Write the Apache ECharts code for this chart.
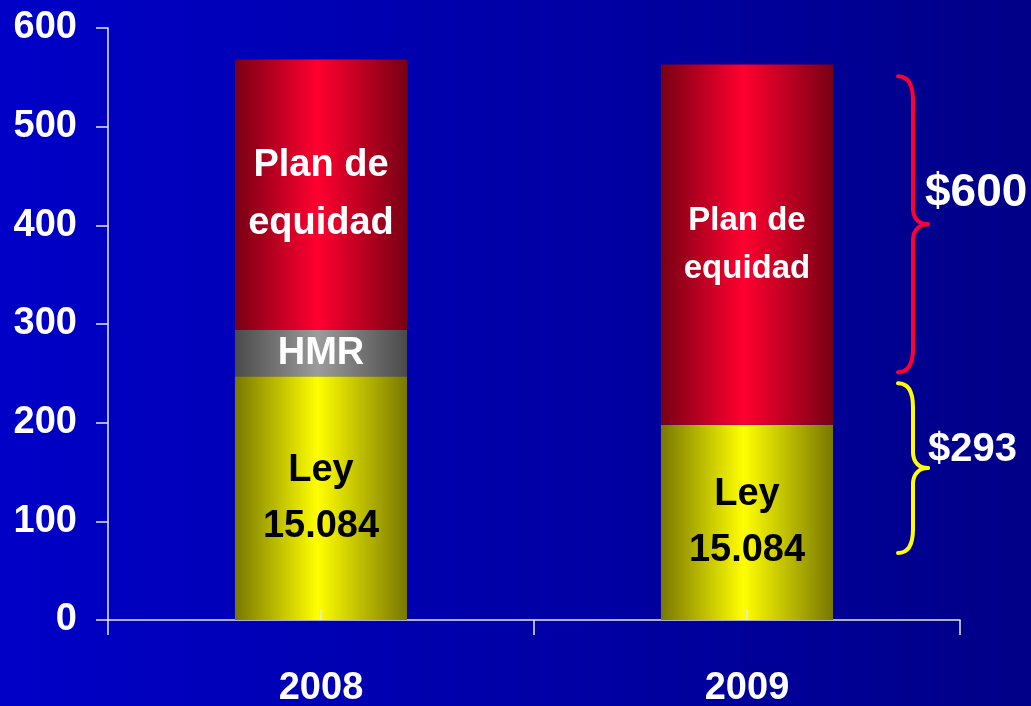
<!DOCTYPE html>
<html>
<head>
<meta charset="utf-8">
<style>
  html, body { margin: 0; padding: 0; }
  #main { width: 1031px; height: 706px; }
</style>
<script src="https://cdn.jsdelivr.net/npm/echarts@6/dist/echarts.min.js"></script>
</head>
<body>
<div id="main"></div>
<script>
// 数据
var years = ['2008', '2009'];
var leyValues = [247, 198];
var hmrValues = [47, 0];
var planValues = [274, 365];
var yMin = 0, yMax = 600, yStep = 100;
// 右侧括号 (y轴数值范围) 和文字
var braceRanges = [[251, 551], [68, 240]];
var braceLabels = ['$600', '$293'];

(function () {
    var FONT = '"Liberation Sans", Arial, sans-serif';
    let myechart = echarts.init(document.getElementById('main'));

    // 横向渐变: 两边暗, 中间亮
    function barGrad(dark, light) {
        return new echarts.graphic.LinearGradient(0, 0, 1, 0, [
            { offset: 0, color: dark },
            { offset: 0.48, color: light },
            { offset: 1, color: dark }
        ]);
    }

    var leyData = leyValues.map(function (v) {
        return { value: v };
    });
    var hmrData = hmrValues.map(function (v) {
        return { value: v, label: { show: v > 0 } };
    });
    var planData = planValues.map(function (v, i) {
        return i === 0 ? { value: v } : { value: v, label: { fontSize: 33, lineHeight: 48 } };
    });

    var option = {
        backgroundColor: new echarts.graphic.LinearGradient(0, 0, 1, 0, [
            { offset: 0, color: '#0000c8' },
            { offset: 1, color: '#000088' }
        ]),
        grid: {
            left: 108,
            right: 71,
            top: 28,
            bottom: 86,
            outerBoundsMode: 'none'
        },
        xAxis: [
            {
                type: 'category',
                data: years,
                axisLine: { lineStyle: { color: '#e8e8e8', width: 1.5 } },
                axisTick: { show: true, length: 15, lineStyle: { color: '#e8e8e8', width: 1.5 } },
                axisLabel: {
                    color: '#fff',
                    fontFamily: FONT,
                    fontWeight: 'bold',
                    fontSize: 38,
                    margin: 50
                }
            },
            {
                // 中心的小刻度 (朝上, 画在柱子上面)
                type: 'category',
                data: years,
                position: 'bottom',
                z: 5,
                axisLine: { show: false },
                axisTick: { show: true, inside: true, alignWithLabel: true, length: 11, lineStyle: { color: '#e8e8e8', width: 1.5 } },
                axisLabel: { show: false }
            }
        ],
        yAxis: {
            type: 'value',
            min: yMin,
            max: yMax,
            interval: yStep,
            splitLine: { show: false },
            axisLine: { show: true, lineStyle: { color: '#e8e8e8', width: 1.5 } },
            axisTick: { show: true, length: 12, lineStyle: { color: '#e8e8e8', width: 1.5 } },
            axisLabel: {
                color: '#fff',
                fontFamily: FONT,
                fontWeight: 'bold',
                fontSize: 38,
                margin: 31
            }
        },
        series: [
            {
                name: 'Ley',
                type: 'bar',
                stack: 'total',
                barWidth: '40.4%',
                data: leyData,
                itemStyle: { color: barGrad('#787800', '#ffff00') },
                label: {
                    show: true,
                    position: 'inside',
                    formatter: 'Ley\n15.084',
                    color: '#000',
                    fontFamily: FONT,
                    fontWeight: 'bold',
                    fontSize: 38,
                    lineHeight: 56
                }
            },
            {
                name: 'HMR',
                type: 'bar',
                stack: 'total',
                data: hmrData,
                itemStyle: { color: barGrad('#4a4a4a', '#9c9c9c') },
                label: {
                    show: true,
                    position: 'inside',
                    formatter: 'HMR',
                    color: '#fff',
                    fontFamily: FONT,
                    fontWeight: 'bold',
                    fontSize: 38
                }
            },
            {
                name: 'Plan de equidad',
                type: 'bar',
                stack: 'total',
                data: planData,
                itemStyle: { color: barGrad('#780014', '#ff0030') },
                label: {
                    show: true,
                    position: 'inside',
                    formatter: 'Plan de\nequidad',
                    color: '#fff',
                    fontFamily: FONT,
                    fontWeight: 'bold',
                    fontSize: 38,
                    lineHeight: 58
                }
            }
        ]
    };
    myechart.setOption(option);

    // 右侧的括号
    var braceColors = ['#ff0030', '#ffff00'];
    var braceFonts = [46, 40];
    var textShift = [-31, -18];
    var graphics = [];
    var xTip = 898, xS = 913, xMid = 928;
    function curve(c, x1, y1, cx1, cy1, cx2, cy2, x2, y2) {
        return {
            type: 'bezierCurve',
            shape: { x1: x1, y1: y1, cpx1: cx1, cpy1: cy1, cpx2: cx2, cpy2: cy2, x2: x2, y2: y2 },
            style: { stroke: c, lineWidth: 4, fill: null, lineCap: 'round' }
        };
    }
    function seg(c, x1, y1, x2, y2) {
        return {
            type: 'line',
            shape: { x1: x1, y1: y1, x2: x2, y2: y2 },
            style: { stroke: c, lineWidth: 4, lineCap: 'round' }
        };
    }
    braceRanges.forEach(function (r, i) {
        var bot = myechart.convertToPixel({ yAxisIndex: 0 }, r[0]);
        var top = myechart.convertToPixel({ yAxisIndex: 0 }, r[1]);
        var mid = (top + bot) / 2;
        var c = 24, m = 16, col = braceColors[i];
        graphics.push(curve(col, xTip, top, xS - 3, top, xS, top + c / 2, xS, top + c));
        graphics.push(seg(col, xS, top + c, xS, mid - m));
        graphics.push(curve(col, xS, mid - m, xS, mid - 5, xS + 7, mid, xMid, mid));
        graphics.push(curve(col, xMid, mid, xS + 7, mid, xS, mid + 5, xS, mid + m));
        graphics.push(seg(col, xS, mid + m, xS, bot - c));
        graphics.push(curve(col, xS, bot - c, xS, bot - c / 2, xS - 3, bot, xTip, bot));
        graphics.push({
            type: 'text',
            x: xMid - 3 + i * 3,
            y: mid + textShift[i],
            style: {
                text: braceLabels[i],
                fill: '#fff',
                font: 'bold ' + braceFonts[i] + 'px ' + FONT,
                verticalAlign: 'middle'
            }
        });
    });
    myechart.setOption({ graphic: graphics });

    window.addEventListener('resize', function () {
        myechart.resize();
    });
})();
</script>
</body>
</html>
